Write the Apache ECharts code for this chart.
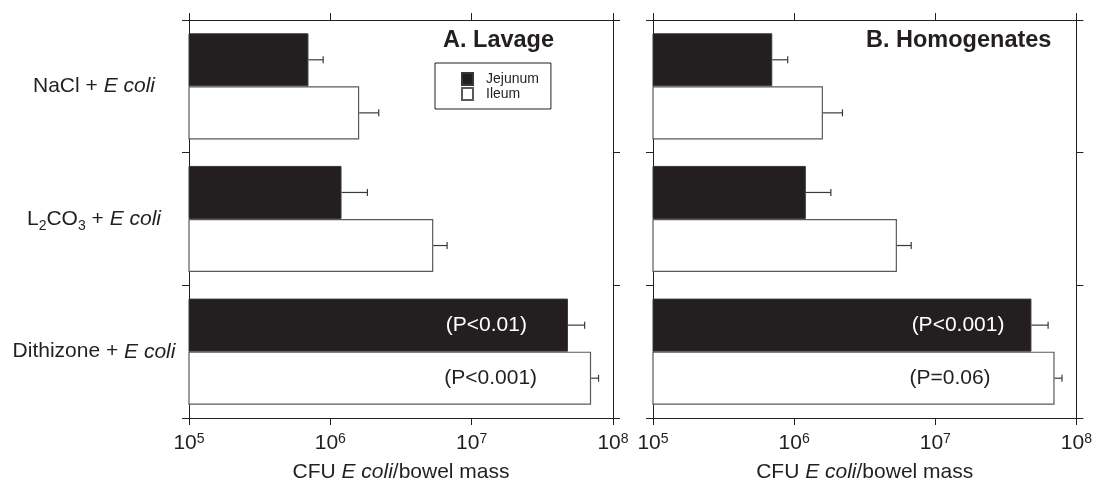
<!DOCTYPE html>
<html>
<head>
<meta charset="utf-8">
<script src="https://cdn.jsdelivr.net/npm/echarts@6/dist/echarts.min.js"></script>
<style>html,body{margin:0;padding:0;background:#fff;overflow:hidden}#c{width:1095px;height:488px}</style>
</head>
<body>
<div id="c"></div>
<script>
// ---- data ----
const categories = ['NaCl', 'L2CO3', 'Dithizone'];
const seriesNames = ['Jejunum', 'Ileum'];
const panelTitles = ['A. Lavage', 'B. Homogenates'];
const xTicks = [1e5, 1e6, 1e7, 1e8];
// Panel A (lavage)
const lavageJejunum = [7.0e5, 1.2e6, 4.8e7];
const lavageJejunumErr = [8.9e5, 1.83e6, 6.3e7];
const lavageIleum = [1.6e6, 5.35e6, 7.0e7];
const lavageIleumErr = [2.2e6, 6.7e6, 7.9e7];
const lavagePLabels = ['(P<0.01)', '(P<0.001)'];
// Panel B (homogenates)
const homogJejunum = [7.0e5, 1.21e6, 4.8e7];
const homogJejunumErr = [9.0e5, 1.82e6, 6.3e7];
const homogIleum = [1.6e6, 5.35e6, 7.0e7];
const homogIleumErr = [2.2e6, 6.75e6, 7.9e7];
const homogPLabels = ['(P<0.001)', '(P=0.06)'];

const INK = '#231f20';
const FONT = 'Liberation Sans, Arial, Helvetica, sans-serif';
const FS = 21;

const catRich = {
  n: { fontSize: FS, color: INK, fontFamily: FONT, lineHeight: 28 },
  i: { fontSize: FS, color: INK, fontFamily: FONT, fontStyle: 'italic', lineHeight: 28 },
  sub: { fontSize: 14, color: INK, fontFamily: FONT, verticalAlign: 'bottom', lineHeight: 28 }
};
function catFormatter(c) {
  if (c === 'L2CO3') return '{n|L}{sub|2}{n|CO}{sub|3}{n| + }{i|E coli}';
  return '{n|' + c + ' + }{i|E coli}';
}
const tickRich = {
  b: { fontSize: FS, color: INK, fontFamily: FONT, lineHeight: 22, verticalAlign: 'bottom' },
  s: { fontSize: 14, color: INK, fontFamily: FONT, lineHeight: 22, verticalAlign: 'top' }
};
function tickFormatter(v) {
  return '{b|10}{s|' + Math.round(Math.log10(v)) + '}';
}

const grids = [
  { left: 189, right: 1095 - 613, top: 20, bottom: 65 },
  { left: 653, right: 1095 - 1077, top: 20, bottom: 65 }
];

const xAxes = [], yAxes = [];
grids.forEach((g, gi) => {
  const lineStyle = { color: INK, width: 1 };
  xAxes.push({
    type: 'log', logBase: 10, min: xTicks[0], max: xTicks[xTicks.length - 1], gridIndex: gi, position: 'bottom',
    axisLine: { show: true, lineStyle }, axisTick: { show: true, inside: false, length: 7, lineStyle },
    minorTick: { show: false }, splitLine: { show: false },
    axisLabel: { formatter: tickFormatter, rich: tickRich, margin: 14, showMaxLabel: true, showMinLabel: true },
    name: '{n|CFU }{i|E coli}{n|/bowel mass}', nameLocation: 'middle', nameGap: 44,
    nameTextStyle: { rich: {
      n: { fontSize: FS, color: INK, fontFamily: FONT },
      i: { fontSize: FS, color: INK, fontFamily: FONT, fontStyle: 'italic' } } }
  });
  xAxes.push({
    type: 'log', logBase: 10, min: xTicks[0], max: xTicks[xTicks.length - 1], gridIndex: gi, position: 'top',
    axisLine: { show: true, lineStyle }, axisTick: { show: true, inside: false, length: 7, lineStyle },
    splitLine: { show: false }, axisLabel: { show: false }
  });
  yAxes.push({
    type: 'category', data: categories, inverse: true, gridIndex: gi, position: 'left',
    axisLine: { show: true, lineStyle }, axisTick: { show: true, inside: false, length: 7, lineStyle, alignWithLabel: false },
    axisLabel: gi === 0 ? { show: true, formatter: catFormatter, rich: catRich, align: 'center', margin: 95 } : { show: false }
  });
  yAxes.push({
    type: 'category', data: categories, inverse: true, gridIndex: gi, position: 'right',
    axisLine: { show: true, lineStyle }, axisTick: { show: true, inside: false, length: 7, lineStyle },
    axisLabel: { show: false }
  });
});

function barSeries(name, values, xi, yi, isJej, pText, pDist) {
  return {
    type: 'bar', name, xAxisIndex: xi, yAxisIndex: yi, clip: true,
    barGap: '0%', barCategoryGap: '20%',
    itemStyle: isJej ? { color: INK, borderColor: '#3a3637', borderWidth: 1 }
                     : { color: '#ffffff', borderColor: '#5a5a5a', borderWidth: 1.2 },
    data: values.map((v, i) => {
      if (i === values.length - 1 && pText) {
        return { value: v, label: { show: true, position: 'insideRight', distance: pDist, formatter: pText,
          color: isJej ? '#ffffff' : INK, fontSize: FS, fontFamily: FONT } };
      }
      return v;
    })
  };
}

function errSeries(name, values, errs, xi, yi, isJej) {
  return {
    type: 'custom', name, xAxisIndex: xi, yAxisIndex: yi, z: 5, silent: true,
    data: values.map((v, i) => [i, v, errs[i]]),
    encode: { x: [1, 2], y: 0 },
    renderItem: function (params, api) {
      const cat = api.value(0), v = api.value(1), e = api.value(2);
      const band = api.size([1, 1])[1];
      const off = (isJej ? -1 : 1) * band * 0.2;
      const p0 = api.coord([v, cat]);
      const p1 = api.coord([e, cat]);
      const y = p0[1] + off;
      const style = { stroke: '#3a3a3a', lineWidth: 1.2 };
      return { type: 'group', children: [
        { type: 'line', shape: { x1: p0[0], y1: y, x2: p1[0], y2: y }, style },
        { type: 'line', shape: { x1: p1[0], y1: y - 3.5, x2: p1[0], y2: y + 3.5 }, style }
      ] };
    }
  };
}

const series = [
  barSeries(seriesNames[0], lavageJejunum, 0, 0, true, lavagePLabels[0], 41),
  barSeries(seriesNames[1], lavageIleum, 0, 0, false, lavagePLabels[1], 54),
  barSeries(seriesNames[0], homogJejunum, 2, 2, true, homogPLabels[0], 27),
  barSeries(seriesNames[1], homogIleum, 2, 2, false, homogPLabels[1], 64),
  errSeries('errA1', lavageJejunum, lavageJejunumErr, 0, 0, true),
  errSeries('errA2', lavageIleum, lavageIleumErr, 0, 0, false),
  errSeries('errB1', homogJejunum, homogJejunumErr, 2, 2, true),
  errSeries('errB2', homogIleum, homogIleumErr, 2, 2, false)
];

const chart = echarts.init(document.getElementById('c'), null, { renderer: 'canvas' });
chart.setOption({
  animation: false,
  backgroundColor: '#ffffff',
  textStyle: { fontFamily: FONT },
  title: [
    { text: panelTitles[0], left: 443, top: 29, padding: 0, textStyle: { fontSize: 23.5, fontWeight: 'bold', color: INK, fontFamily: FONT } },
    { text: panelTitles[1], left: 866, top: 29, padding: 0, textStyle: { fontSize: 23.5, fontWeight: 'bold', color: INK, fontFamily: FONT } }
  ],
  legend: {
    data: seriesNames, orient: 'vertical', left: 435, top: 63,
    padding: [9, 12, 8, 26], itemWidth: 11, itemHeight: 12, itemGap: 1,
    borderColor: INK, borderWidth: 1, icon: 'rect', selectedMode: false,
    textStyle: { fontSize: 14, color: INK, fontFamily: FONT, padding: [0, 0, 0, 8] }
  },
  grid: grids,
  xAxis: xAxes,
  yAxis: yAxes,
  series
});
</script>
</body>
</html>
